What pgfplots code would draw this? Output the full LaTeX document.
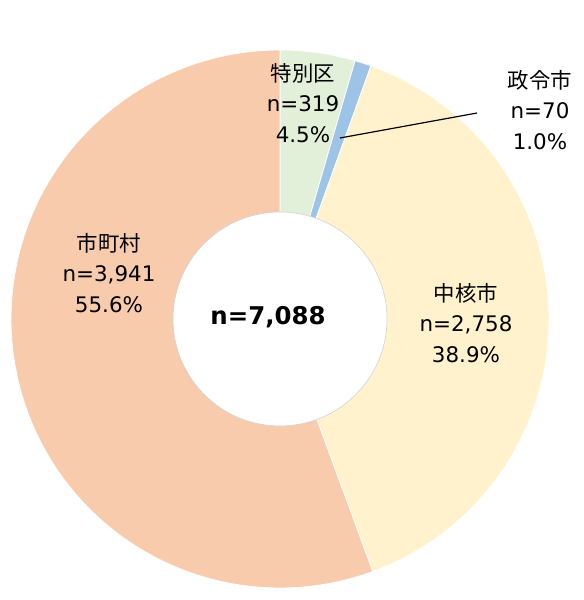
\documentclass[border=0pt]{standalone}
\usepackage{pgfplots}
\usepackage{pgfplotstable}
\pgfplotsset{compat=1.18}
\usepackage{fontspec}
\setmainfont{DejaVu Sans}
\newfontfamily\cjk{Noto Sans CJK JP}
\definecolor{cTok}{HTML}{E2F0D9}
\definecolor{cSei}{HTML}{9DC3E6}
\definecolor{cChu}{HTML}{FFF2CC}
\definecolor{cShi}{HTML}{F8CBAD}

\pgfplotstableread{
n
319
70
2758
3941
}\datatable

\begin{document}
\begin{tikzpicture}
\pgfplotstablegetelem{0}{n}\of\datatable \edef\nA{\pgfplotsretval}
\pgfplotstablegetelem{1}{n}\of\datatable \edef\nB{\pgfplotsretval}
\pgfplotstablegetelem{2}{n}\of\datatable \edef\nC{\pgfplotsretval}
\pgfplotstablegetelem{3}{n}\of\datatable \edef\nD{\pgfplotsretval}
\pgfmathsetmacro\tot{\nA+\nB+\nC+\nD}
\pgfmathsetmacro\aZ{90}
\pgfmathsetmacro\aA{\aZ-360*(\nA/\tot)}
\pgfmathsetmacro\aB{\aA-360*(\nB/\tot)}
\pgfmathsetmacro\aC{\aB-360*(\nC/\tot)}
\pgfmathsetmacro\aD{\aC-360*(\nD/\tot)}
\def\cx{280}\def\cy{281}\def\R{269}\def\r{107}
\begin{axis}[
  scale only axis, width=583bp, height=600bp,
  xmin=0, xmax=583, ymin=0, ymax=600,
  hide axis, clip=false]
\coordinate (BL) at (0,0);
\coordinate (TR) at (583,600);
\addplot[fill=cTok, draw=white, line width=0.8pt, domain=\aA:\aZ, samples=40]
  ({\cx+\R*cos(x)},{\cy+\R*sin(x)}) -- (\cx,\cy) -- cycle;
\addplot[fill=cSei, draw=white, line width=0.8pt, domain=\aB:\aA, samples=10]
  ({\cx+\R*cos(x)},{\cy+\R*sin(x)}) -- (\cx,\cy) -- cycle;
\addplot[fill=cChu, draw=white, line width=0.8pt, domain=\aC:\aB, samples=120]
  ({\cx+\R*cos(x)},{\cy+\R*sin(x)}) -- (\cx,\cy) -- cycle;
\addplot[fill=cShi, draw=white, line width=0.8pt, domain=\aD:\aC, samples=160]
  ({\cx+\R*cos(x)},{\cy+\R*sin(x)}) -- (\cx,\cy) -- cycle;
\addplot[fill=white, draw=gray!35, line width=0.6pt, domain=0:360, samples=160]
  ({\cx+\r*cos(x)},{\cy+\r*sin(x)}) -- cycle;
\addplot[black, line width=1.2pt] coordinates {(340,462) (477,487)};
\node[align=center, font=\fontsize{21.5}{30.5}\selectfont] at (303,497) {{\cjk 特別区}\\n=319\\4.5\%};
\node[align=center, font=\fontsize{21.5}{30.5}\selectfont] at (540,490) {{\cjk 政令市}\\n=70\\1.0\%};
\node[align=center, font=\fontsize{21.5}{30.5}\selectfont] at (466,277) {{\cjk 中核市}\\n=2,758\\38.9\%};
\node[align=center, font=\fontsize{21.5}{30.5}\selectfont] at (109,327) {{\cjk 市町村}\\n=3,941\\55.6\%};
\node[font=\fontsize{24.5}{28}\selectfont\bfseries] at (268,283) {n=7,088};
\end{axis}
\pgfresetboundingbox
\path[use as bounding box] (BL) rectangle (TR);
\end{tikzpicture}
\end{document}
